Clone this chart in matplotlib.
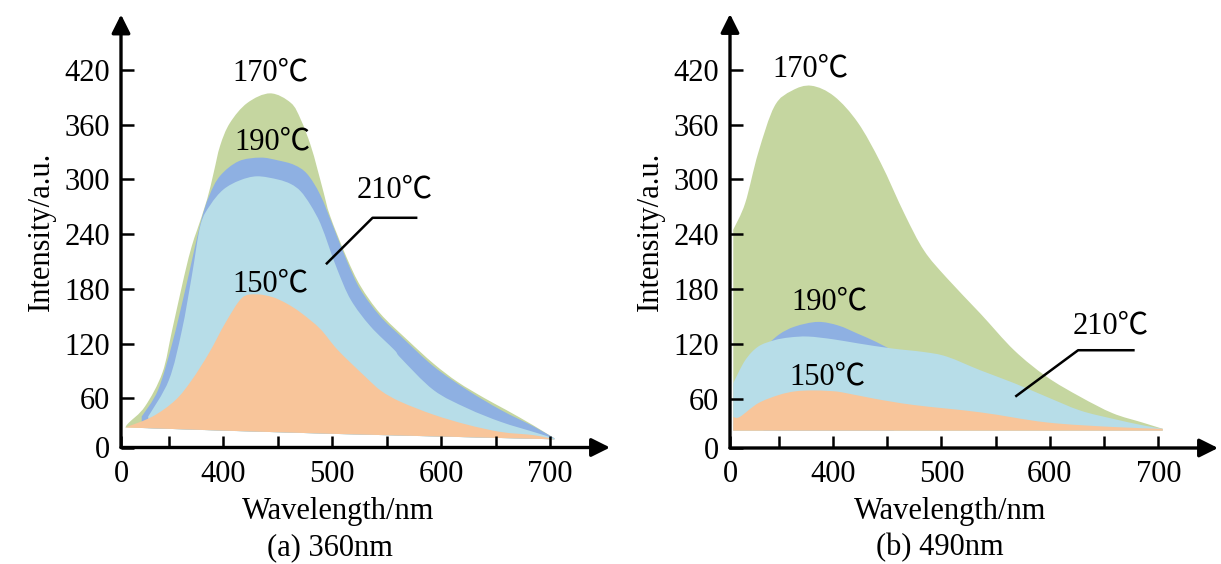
import numpy as np
import matplotlib.pyplot as plt
from matplotlib.path import Path
from matplotlib.patches import PathPatch

plt.rcParams['font.family'] = ['Liberation Serif', 'Noto Sans CJK SC']

# ---- (a) 360nm excitation ----
base_a_x = [310, 400, 500, 600, 704]
base_a_y = [28, 24.5, 21, 18, 15]

c170_a_x = [310, 313, 328, 344, 353, 364, 371, 376, 385, 391, 397, 406, 422, 443, 462, 471, 480, 486, 492,
            498, 513, 526, 544, 569, 593, 615, 640, 660, 685, 704]
c170_a_y = [28, 33, 51, 88, 135, 194, 227, 245, 278, 307, 337, 362, 384, 394.5, 384, 366, 338, 313, 286,
            260, 215, 183, 153, 124, 98, 78, 60, 47, 30, 16]

c190_a_x = [325, 340, 353, 365, 379, 387, 397, 414, 434, 450, 465, 477, 489, 501, 514, 526, 544, 563,
            593, 624, 655, 685, 704]
c190_a_y = [40, 69, 120, 179, 252, 282, 304, 320, 324, 321, 316, 306, 283, 248, 209, 179, 150, 128,
            95, 69, 47, 29, 16]

c210_a_x = [331, 350, 362, 371, 379, 388, 400, 415, 431, 450, 462, 471, 480, 489, 497, 505, 517, 535, 557,
            563, 593, 624, 655, 685, 704]
c210_a_y = [40, 80, 135, 194, 250, 272, 289, 299, 303.5, 300, 295, 287, 272, 252, 226, 200, 168, 139, 113,
            104, 69, 49, 34, 23, 16]

c150_a_x = [310, 335, 356, 371, 387, 402, 417, 430, 445, 458, 471, 489, 505, 530, 545, 563, 593, 624, 655,
            685, 704]
c150_a_y = [28, 40, 58, 80, 110, 143, 170, 174, 171, 164, 154, 136, 113, 84, 68, 56, 42, 31, 23, 19.5, 15]

# ---- (b) 490nm excitation ----
base_b_x = [308, 500, 704]
base_b_y = [25, 25, 25]

c170_b_x = [308, 319, 331, 346, 362, 380, 401, 423, 444, 466, 484, 505, 536, 567, 597, 628, 658, 685, 704]
c170_b_y = [245, 274, 329, 380, 397, 402.5, 391, 362, 318, 262, 222, 192, 153, 113, 84, 62, 44, 34, 27]

c190_b_x = [336, 350, 365, 386, 405, 423, 440, 456]
c190_b_y = [115, 130, 139, 144, 140, 131, 122, 112]

c210_b_x = [308, 319, 331, 346, 360, 377, 400, 423, 454, 484, 505, 536, 567, 597, 628, 658, 685, 704]
c210_b_y = [77, 102, 117, 124, 127, 128, 125, 120.5, 115, 111, 106, 91, 77, 62, 47, 38, 31, 27]

c150_b_x = [308, 314, 331, 350, 365, 380, 395, 408, 438, 475, 536, 597, 658, 704]
c150_b_y = [40, 40, 55, 64, 68, 69, 68.5, 67, 60, 53, 45, 34, 29, 27]

colors = {'170': '#c5d6a0', '190': '#8eb0e2', '210': '#b7dde8', '150': '#f8c59a'}

yticks = [60, 120, 180, 240, 300, 360, 420]
xticks_major = [400, 500, 600, 700]
xticks_minor = [350, 450, 550, 650]

FS = 22


def band(ax, x, y, bx, by, color):
    # smooth top edge (bezier through the read points), straight bottom along the baseline
    pts = np.column_stack([x, y]).astype(float)
    n = len(pts)
    verts = [pts[0]]
    codes = [Path.MOVETO]
    for i in range(n - 1):
        p0 = pts[i - 1] if i > 0 else pts[i]
        p1 = pts[i]
        p2 = pts[i + 1]
        p3 = pts[i + 2] if i + 2 < n else pts[i + 1]
        verts += [p1 + (p2 - p0) / 6, p2 - (p3 - p1) / 6, p2]
        codes += [Path.CURVE4] * 3
    bx = np.asarray(bx, float)
    by = np.asarray(by, float)
    inner = (bx > x[0]) & (bx < x[-1])
    bottom = [(x[-1], np.interp(x[-1], bx, by))]
    bottom += list(zip(bx[inner][::-1], by[inner][::-1]))
    bottom += [(x[0], np.interp(x[0], bx, by))]
    for p in bottom:
        verts.append(p)
        codes.append(Path.LINETO)
    verts.append(pts[0])
    codes.append(Path.CLOSEPOLY)
    ax.add_patch(PathPatch(Path(verts, codes), facecolor=color, lw=0))


def setup(ax, x0, y0):
    ax.set_xlim(x0, 755)
    ax.set_ylim(y0, 481)
    for s in ax.spines.values():
        s.set_visible(False)
    # axes with arrow heads
    ax.annotate('', xy=(1, 0), xytext=(0, 0), xycoords='axes fraction',
                arrowprops=dict(arrowstyle='-|>', lw=2.4, color='k', mutation_scale=28,
                                shrinkA=0, shrinkB=0))
    ax.annotate('', xy=(0, 1), xytext=(0, 0), xycoords='axes fraction',
                arrowprops=dict(arrowstyle='-|>', lw=2.4, color='k', mutation_scale=28,
                                shrinkA=0, shrinkB=0))
    ax.set_xticks([x0] + xticks_major)
    ax.set_xticklabels(['0'] + [str(v) for v in xticks_major])
    ax.set_xticks(xticks_minor, minor=True)
    ax.set_yticks([y0] + yticks)
    ax.set_yticklabels(['0'] + [str(v) for v in yticks])
    ax.tick_params(axis='both', which='both', direction='in', length=9, width=1.8, labelsize=FS)
    ax.tick_params(axis='x', pad=9)
    ax.tick_params(axis='y', pad=8)
    ax.set_ylabel('Intensity/a.u.', fontsize=FS, labelpad=6)
    ax.set_facecolor('none')


fig = plt.figure(figsize=(12.21, 5.64), dpi=100)
ax1 = fig.add_axes([121 / 1221, 1 - 447.5 / 564, 489 / 1221, 433 / 564])
ax2 = fig.add_axes([730 / 1221, 1 - 448 / 564, 488 / 1221, 434 / 564])

band(ax1, c170_a_x, c170_a_y, base_a_x, base_a_y, colors['170'])
band(ax1, c190_a_x, c190_a_y, base_a_x, base_a_y, colors['190'])
band(ax1, c210_a_x, c210_a_y, base_a_x, base_a_y, colors['210'])
band(ax1, c150_a_x, c150_a_y, base_a_x, base_a_y, colors['150'])
setup(ax1, 306, 6)

ax1.text(443, 417, '170℃', fontsize=FS, ha='center', va='center')
ax1.text(445, 341, '190℃', fontsize=FS, ha='center', va='center')
ax1.text(557, 288, '210℃', fontsize=FS, ha='center', va='center')
ax1.text(443, 185, '150℃', fontsize=FS, ha='center', va='center')
ax1.plot([495, 537, 577], [208, 258, 258], color='k', lw=1.8)

band(ax2, c170_b_x, c170_b_y, base_b_x, base_b_y, colors['170'])
band(ax2, c190_b_x, c190_b_y, base_b_x, base_b_y, colors['190'])
band(ax2, c210_b_x, c210_b_y, base_b_x, base_b_y, colors['210'])
band(ax2, c150_b_x, c150_b_y, base_b_x, base_b_y, colors['150'])
setup(ax2, 305, 6)

ax2.text(379, 421, '170℃', fontsize=FS, ha='center', va='center')
ax2.text(397, 166, '190℃', fontsize=FS, ha='center', va='center')
ax2.text(656, 140, '210℃', fontsize=FS, ha='center', va='center')
ax2.text(395, 84, '150℃', fontsize=FS, ha='center', va='center')
ax2.plot([569, 626, 677], [63, 113, 113], color='k', lw=1.8)

fig.text(338 / 1221, 1 - 511 / 564, 'Wavelength/nm', fontsize=FS, ha='center', va='center')
fig.text(330 / 1221, 1 - 548 / 564, '(a) 360nm', fontsize=FS, ha='center', va='center')
fig.text(950 / 1221, 1 - 511 / 564, 'Wavelength/nm', fontsize=FS, ha='center', va='center')
fig.text(940 / 1221, 1 - 548 / 564, '(b) 490nm', fontsize=FS, ha='center', va='center')

fig.savefig('out.png', dpi=100)
